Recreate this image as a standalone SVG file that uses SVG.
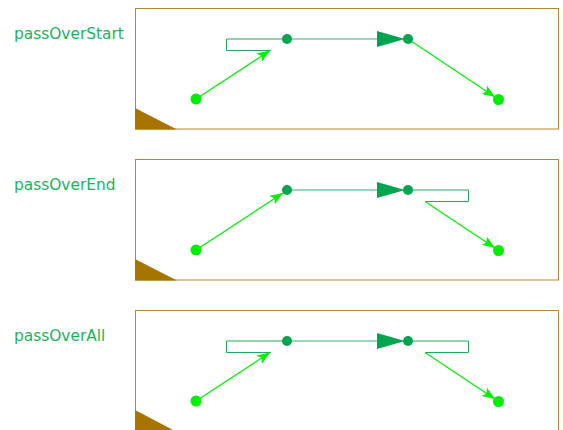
<svg xmlns="http://www.w3.org/2000/svg" width="563" height="430" viewBox="0 0 563 430">
<defs>
<style>
.lbl{font-family:"DejaVu Sans",Tahoma,sans-serif;font-size:15.4px;fill:#1cb25c}
.frame{fill:#fff;stroke:#b5882e;stroke-width:1}
.corner{fill:#a87400}
.main{stroke:#2fb870;stroke-width:1.2;fill:none}
.loop{stroke:#22aa5f;stroke-width:1;fill:none}
.lite{stroke:#00ee00;stroke-width:1.2;fill:none}
.dk{fill:#00a550}
.lt{fill:#00ee00}
.big{fill:#00a550}
</style>
<marker id="ah" markerUnits="userSpaceOnUse" markerWidth="14" markerHeight="10" refX="13" refY="5" orient="auto"><path d="M0,0 L13,5 L0,10 L3,5 z" fill="#00ee00"/></marker>
</defs>
<g id="panels">
<g id="panelStart">
<rect class="frame" x="135.5" y="8.5" width="423" height="120.5"/>
<path class="corner" d="M135,108 L135,129.5 L177,129.5 z"/>
</g>
<g id="panelEnd">
<rect class="frame" x="135.5" y="159.5" width="423" height="120.5"/>
<path class="corner" d="M135,259 L135,280.5 L177,280.5 z"/>
</g>
<g id="panelAll">
<rect class="frame" x="135.5" y="310.5" width="423" height="125"/>
<path class="corner" d="M135,410 L135,432 L177,432 z"/>
</g>
</g>
<g id="labels">
<text class="lbl" x="14" y="38.5">passOverStart</text>
<text class="lbl" x="14" y="189.5">passOverEnd</text>
<text class="lbl" x="14" y="340.5">passOverAll</text>
</g>
<g id="connectors">
<path class="loop" d="M287,39 H226.5 V50.5 H271"/>
<path class="main" d="M287,39 H380"/>
<path class="big" d="M377,31 L377,47 L405,39 z"/>
<path class="lite" d="M196,99 L270,50.5" marker-end="url(#ah)"/>
<path class="lite" d="M408,39 L495,97" marker-end="url(#ah)"/>

<path class="main" d="M287,190 H380"/>
<path class="loop" d="M408,190 H468.5 V201.5 H425"/>
<path class="big" d="M377,182 L377,198 L405,190 z"/>
<path class="lite" d="M196,250 L283,193" marker-end="url(#ah)"/>
<path class="lite" d="M425,201.5 L495,248" marker-end="url(#ah)"/>

<path class="loop" d="M287,341 H226.5 V352.5 H271"/>
<path class="main" d="M287,341 H380"/>
<path class="loop" d="M408,341 H468.5 V352.5 H425"/>
<path class="big" d="M377,333 L377,349 L405,341 z"/>
<path class="lite" d="M196,401 L270,352.5" marker-end="url(#ah)"/>
<path class="lite" d="M425,352.5 L495,399" marker-end="url(#ah)"/>
</g>
<g id="nodes">
<g id="s1"><circle class="lt" cx="196" cy="99" r="5.5"/></g>
<g id="a1"><circle class="dk" cx="287" cy="39" r="5"/></g>
<g id="b1"><circle class="dk" cx="408" cy="39" r="5"/></g>
<g id="e1"><circle class="lt" cx="498.5" cy="99.5" r="5.5"/></g>
<g id="s2"><circle class="lt" cx="196" cy="250" r="5.5"/></g>
<g id="a2"><circle class="dk" cx="287" cy="190" r="5"/></g>
<g id="b2"><circle class="dk" cx="408" cy="190" r="5"/></g>
<g id="e2"><circle class="lt" cx="498.5" cy="250.5" r="5.5"/></g>
<g id="s3"><circle class="lt" cx="196" cy="401" r="5.5"/></g>
<g id="a3"><circle class="dk" cx="287" cy="341" r="5"/></g>
<g id="b3"><circle class="dk" cx="408" cy="341" r="5"/></g>
<g id="e3"><circle class="lt" cx="498.5" cy="401.5" r="5.5"/></g>
</g>
</svg>
